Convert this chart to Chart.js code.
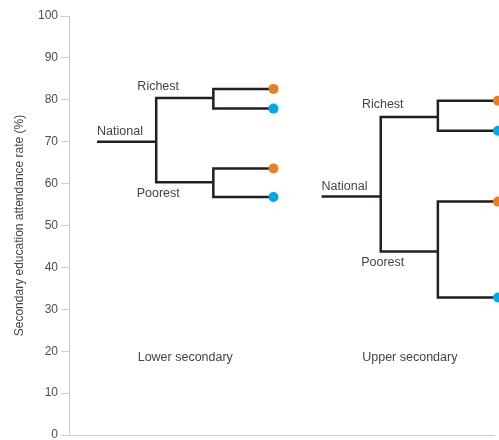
<!DOCTYPE html>
<html lang="en">
<head>
    <meta charset="UTF-8">
    <title>Secondary education attendance rate</title>
    <script src="https://cdn.jsdelivr.net/npm/chart.js"></script>
    <style>
        body {
            margin: 0;
            background: #fff;
        }

        .chart-box {
            width: 499px;
            height: 440px;
        }
    </style>
</head>
<body>

    <div class="chart-box">
        <canvas id="chartContainer"></canvas>
    </div>

    <script>
        // Values (%)
        const groups = ['Lower secondary', 'Upper secondary'];
        const national = [70.0, 56.9];
        const richest = [80.4, 75.9];
        const poorest = [60.3, 43.8];
        const richestOrange = [82.6, 79.8];
        const richestBlue = [77.9, 72.6];
        const poorestOrange = [63.6, 55.7];
        const poorestBlue = [56.8, 32.8];
        const yTicks = [0, 10, 20, 30, 40, 50, 60, 70, 80, 90, 100];
        const groupLabelY = 18.6;

        // Tree layout along a hidden x axis
        const groupStep = 224;
        const levels = [28, 87, 144, 204];

        const lineColor = '#231f20';
        const orange = '#e8801f';
        const blue = '#00a8e8';
        const font = '"Liberation Sans", Arial, sans-serif';

        function lvl(i, k) {
            return i * groupStep + levels[k];
        }

        function lineSet(points) {
            return {
                type: 'line',
                data: points,
                order: 1,
                borderColor: lineColor,
                borderWidth: 2.5,
                borderJoinStyle: 'miter',
                borderCapStyle: 'butt',
                pointRadius: 0,
                tension: 0,
                fill: false,
                clip: false
            };
        }

        const datasets = [];
        groups.forEach((g, i) => {
            datasets.push(lineSet([
                { x: lvl(i, 0), y: national[i] },
                { x: lvl(i, 1), y: national[i] }
            ]));
            datasets.push(lineSet([
                { x: lvl(i, 2), y: richest[i] },
                { x: lvl(i, 1), y: richest[i] },
                { x: lvl(i, 1), y: poorest[i] },
                { x: lvl(i, 2), y: poorest[i] }
            ]));
            datasets.push(lineSet([
                { x: lvl(i, 3), y: richestOrange[i] },
                { x: lvl(i, 2), y: richestOrange[i] },
                { x: lvl(i, 2), y: richestBlue[i] },
                { x: lvl(i, 3), y: richestBlue[i] }
            ]));
            datasets.push(lineSet([
                { x: lvl(i, 3), y: poorestOrange[i] },
                { x: lvl(i, 2), y: poorestOrange[i] },
                { x: lvl(i, 2), y: poorestBlue[i] },
                { x: lvl(i, 3), y: poorestBlue[i] }
            ]));
        });

        // one dot per dataset so none is skipped at the right edge
        groups.forEach((g, i) => {
            [
                [richestOrange, orange], [richestBlue, blue],
                [poorestOrange, orange], [poorestBlue, blue]
            ].forEach(([vals, col]) => {
                datasets.push({
                    type: 'scatter',
                    order: 0,
                    clip: false,
                    data: [{ x: lvl(i, 3), y: vals[i] }],
                    backgroundColor: col,
                    borderColor: col,
                    pointRadius: 5,
                    borderWidth: 0
                });
            });
        });

        // Text labels placed through the scales
        const treeLabels = {
            id: 'treeLabels',
            afterDatasetsDraw(chart) {
                const c = chart.ctx;
                const xs = chart.scales.x;
                const ys = chart.scales.y;
                c.save();
                c.font = '12.5px ' + font;
                c.fillStyle = '#444';
                c.textBaseline = 'middle';
                groups.forEach((g, i) => {
                    c.textAlign = 'left';
                    c.fillText('National', xs.getPixelForValue(lvl(i, 0)), ys.getPixelForValue(national[i]) - 10);
                    c.textAlign = 'center';
                    const bx = xs.getPixelForValue(lvl(i, 1)) + 2;
                    c.fillText('Richest', bx, ys.getPixelForValue(richest[i]) - 12);
                    c.fillText('Poorest', bx, ys.getPixelForValue(poorest[i]) + 11);
                    const cx = (xs.getPixelForValue(lvl(i, 0)) + xs.getPixelForValue(lvl(i, 3))) / 2;
                    c.fillText(g, cx, ys.getPixelForValue(groupLabelY));
                });
                c.restore();
            }
        };

        const ctx = document.getElementById('chartContainer').getContext('2d');
        let myChart = new Chart(ctx, {
            data: { datasets: datasets },
            plugins: [treeLabels],
            options: {
                responsive: true,
                maintainAspectRatio: false,
                animation: false,
                layout: {
                    padding: { top: 16, right: 0, bottom: 3, left: 0 }
                },
                plugins: {
                    legend: { display: false },
                    tooltip: { enabled: false }
                },
                scales: {
                    x: {
                        type: 'linear',
                        min: 0,
                        max: 424,
                        afterFit: (scale) => {
                            scale.height = 1;
                            scale.paddingLeft = 0;
                            scale.paddingRight = 0;
                        },
                        ticks: { display: false },
                        grid: { display: false },
                        border: { color: '#cccccc', width: 1 }
                    },
                    y: {
                        type: 'linear',
                        min: 0,
                        max: 100,
                        afterBuildTicks: (scale) => {
                            scale.ticks = yTicks.map(v => ({ value: v }));
                        },
                        afterFit: (scale) => {
                            scale.width = 69;
                            scale.paddingTop = 0;
                            scale.paddingBottom = 0;
                        },
                        ticks: {
                            color: '#4d4d4d',
                            padding: 3,
                            font: { family: font, size: 12 }
                        },
                        grid: {
                            drawOnChartArea: false,
                            drawTicks: true,
                            tickLength: 8,
                            color: '#cccccc'
                        },
                        border: { color: '#cccccc', width: 1 },
                        title: {
                            display: true,
                            text: 'Secondary education attendance rate (%)',
                            color: '#444',
                            font: { family: font, size: 12 },
                            padding: { top: 12, bottom: 4 }
                        }
                    }
                }
            }
        });
    </script>

</body>
</html>
